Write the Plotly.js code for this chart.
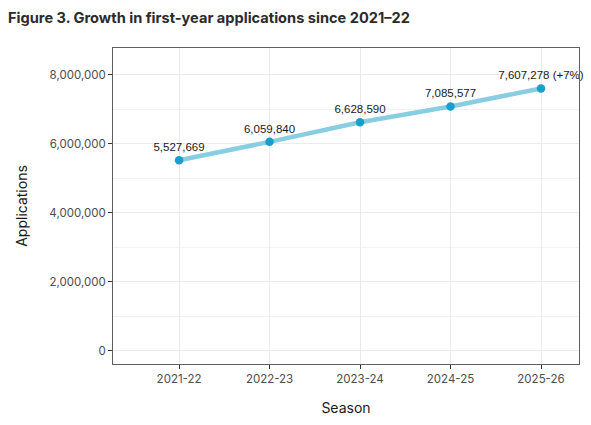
<!DOCTYPE html>
<html>
<head>
<meta charset="utf-8">
<script src="https://cdn.plot.ly/plotly-3.0.1.min.js"></script>
<style>html,body{margin:0;padding:0;background:#fff;}#chart{width:591px;height:425px;}</style>
</head>
<body>
<div id="chart"></div>
<script>
const seasons = ["2021-22", "2022-23", "2023-24", "2024-25", "2025-26"];
const applications = [5527669, 6059840, 6628590, 7085577, 7607278];
const pointLabels = ["5,527,669", "6,059,840", "6,628,590", "7,085,577", "7,607,278 (+7%)"];
const yTickVals = [0, 2000000, 4000000, 6000000, 8000000];
const yTickText = ["0", "2,000,000", "4,000,000", "6,000,000", "8,000,000"];

const trace = {
  x: seasons,
  y: applications,
  type: "scatter",
  mode: "lines+markers+text",
  text: pointLabels,
  textposition: "top center",
  textfont: {family: "'Liberation Sans', Arial, sans-serif", size: 11.5, color: "#1a1a1a"},
  line: {color: "#88cde2", width: 4.5},
  marker: {color: "#189fcb", size: 8.5},
  cliponaxis: false,
  hoverinfo: "skip"
};

const layout = {
  width: 591,
  height: 425,
  margin: {l: 113, r: 12, t: 48, b: 61},
  paper_bgcolor: "#ffffff",
  plot_bgcolor: "#ffffff",
  showlegend: false,
  title: {
    text: "<b>Figure 3. Growth in first-year applications since 2021–22</b>",
    font: {family: "Inter, Roboto, sans-serif", size: 14.6, color: "#2b2b2b"},
    x: 8 / 591, xanchor: "left", xref: "container",
    y: 0.957, yanchor: "middle", yref: "container"
  },
  xaxis: {
    type: "category",
    range: [-0.73, 4.42],
    showgrid: true,
    gridcolor: "#ebebeb",
    gridwidth: 1,
    zeroline: false,
    showline: true,
    linecolor: "#5f5f5f",
    linewidth: 1,
    mirror: true,
    ticks: "outside",
    ticklen: 4,
    tickcolor: "#333333",
    tickfont: {family: "Inter, Roboto, sans-serif", size: 11.5, color: "#4d4d4d"},
    title: {text: "Season", font: {family: "Inter, Roboto, sans-serif", size: 14, color: "#1a1a1a"}, standoff: 18}
  },
  yaxis: {
    range: [-380000, 8780000],
    tickvals: yTickVals,
    ticktext: yTickText,
    showgrid: true,
    gridcolor: "#ebebeb",
    gridwidth: 1,
    minor: {dtick: 1000000, tick0: 1000000, showgrid: true, gridcolor: "#f3f3f3", gridwidth: 1, ticks: ""},
    zeroline: false,
    showline: true,
    linecolor: "#5f5f5f",
    linewidth: 1,
    mirror: true,
    ticks: "outside",
    ticklen: 4,
    tickcolor: "#333333",
    tickfont: {family: "Inter, Roboto, sans-serif", size: 11.5, color: "#4d4d4d"},
    title: {text: "Applications", font: {family: "Inter, Roboto, sans-serif", size: 14, color: "#1a1a1a"}, standoff: 18}
  }
};

Plotly.newPlot("chart", [trace], layout, {displayModeBar: false, staticPlot: true});
</script>
</body>
</html>
